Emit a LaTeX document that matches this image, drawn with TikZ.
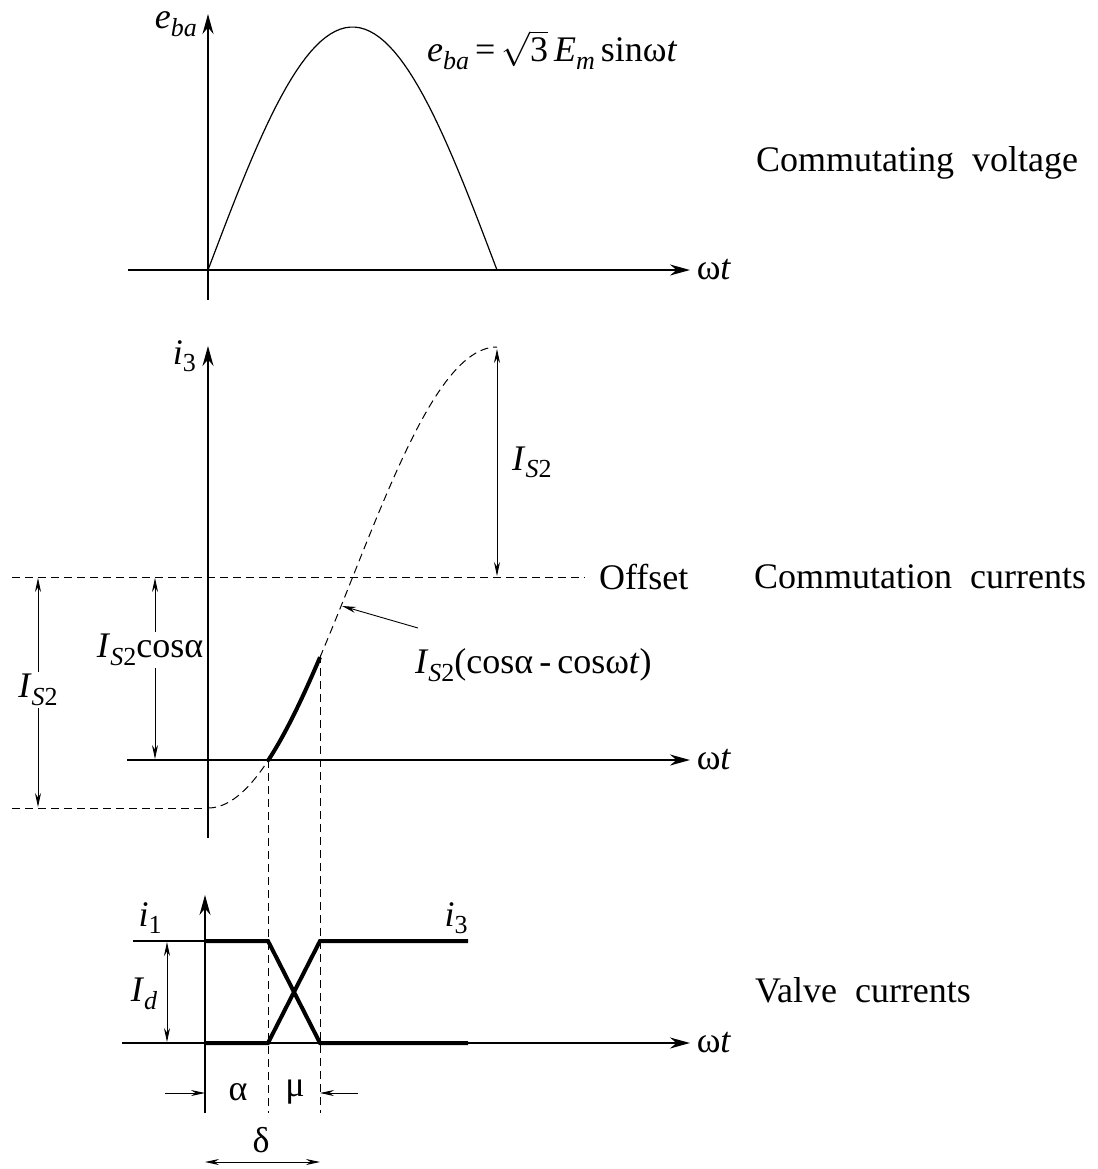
\documentclass[tikz,border=0pt]{standalone}
\usepackage{fontspec}
\setmainfont{Liberation Serif}
\usetikzlibrary{arrows.meta,positioning}

\newcommand{\lowsub}[1]{\raisebox{-0.45ex}{\fontsize{13}{13}\selectfont\itshape #1}}
\newcommand{\ISt}{\textit{I}\raisebox{-0.45ex}{\fontsize{13}{13}\selectfont\itshape S\upshape 2}}

\tikzset{
  axis/.style={line width=0.8pt,-{Stealth[length=10pt,width=5.5pt]}},
  thin line/.style={line width=0.6pt},
  heavy/.style={line width=2pt},
  guide/.style={line width=0.5pt,dash pattern=on 4pt off 2.5pt},
  dimline/.style={line width=0.45pt,{Stealth[length=7pt,width=3pt]}-{Stealth[length=7pt,width=3pt]}},
  onearrow/.style={line width=0.45pt,-{Stealth[length=7pt,width=3pt]}},
  cover/.style={fill=white,inner sep=1pt}
}

\begin{document}
\begin{tikzpicture}[x=0.5pt,y=-0.5pt,font=\fontsize{18}{21}\selectfont]
\useasboundingbox (0,0) rectangle (1098,1169);

% commutating voltage
\draw[axis] (208,300) -- (208,14);
\draw[axis] (128,270) -- (690,270);
\node[anchor=east] (vlab) at (204,24) {\textit{e}\lowsub{ba}};
\node (vwt) at (714,270) {ω\textit{t}};
\draw[thin line,domain=208:497,samples=60] plot (\x,{270-243*sin(0.62284*(\x-208))});
\node[anchor=west] (veq) at (420,50) {\textit{e}\lowsub{ba}\,=\,$\sqrt{\mbox{3}}$\,\textit{E}\lowsub{m}\,sinω\textit{t}};
\node (vtitle) at (917,163) {Commutating\enskip voltage};

% commutation currents
\draw[axis] (208,838) -- (208,346);
\draw[axis] (127,760) -- (690,760);
\node[anchor=east] (clab) at (203,356) {\textit{i}\lowsub{\upshape 3}};
\node (cwt) at (714,760) {ω\textit{t}};
\draw[guide] (12,577) -- (585,577);
\node[anchor=west] (offs) at (592,577) {Offset};
\draw[guide] (12,808) -- (206,808);
\draw[guide,domain=208:497,samples=80] plot (\x,{577.5+230.5*cos(0.62284*(\x-208))});
\draw[heavy,domain=268:320,samples=20] plot (\x,{577.5+230.5*cos(0.62284*(\x-208))});
\coordinate (alf) at (268,760);
\coordinate (mu) at (320,655);
\draw[guide] (alf) -- (268,1113);
\draw[guide] (mu) -- (320,1113);
\draw[dimline] (497,349) -- (497,576) node[midway,right=4pt] (ispk) {\ISt};
\draw[dimline] (155,578) -- (155,759);
\node[cover] (iscos) at (150,650) {\ISt cosα};
\draw[dimline] (38,578) -- (38,807);
\node[cover] (isleft) at (38,690) {\ISt};
\node[anchor=west] (curvelab) at (408,665) {\ISt(cosα\,-\,cosω\textit{t})};
\coordinate (ptip) at (342,606);
\draw[onearrow] (418,628) -- (ptip);
\node (ctitle) at (920,577) {Commutation\enskip currents};

% valve currents
\draw[axis] (205,1113) -- (205,895);
\draw[axis] (122,1043) -- (690,1043);
\node (bwt) at (714,1043) {ω\textit{t}};
\draw[thin line] (133,941) -- (205,941);
\draw[heavy] (205,941) -- (268,941) -- (320,1043) -- (468,1043);
\draw[heavy] (205,1043) -- (268,1043) -- (320,941) -- (468,941);
\node (ione) at (150,918) {\textit{i}\lowsub{\upshape 1}};
\node (ithree) at (456,918) {\textit{i}\lowsub{\upshape 3}};
\draw[dimline] (167,942) -- (167,1042);
\node (idl) at (144,994) {\textit{I}\lowsub{d}};
\draw[onearrow] (165,1093) -- (205,1093);
\draw[onearrow] (358,1093) -- (320,1093);
\node (alab) at (238,1092) {α};
\node (mlab) at (295,1092) {μ};
\node (dlab) at (261,1140) {δ};
\draw[dimline] (205,1162) -- (320,1162);
\node (btitle) at (863,990) {Valve\enskip currents};
\end{tikzpicture}
\end{document}
